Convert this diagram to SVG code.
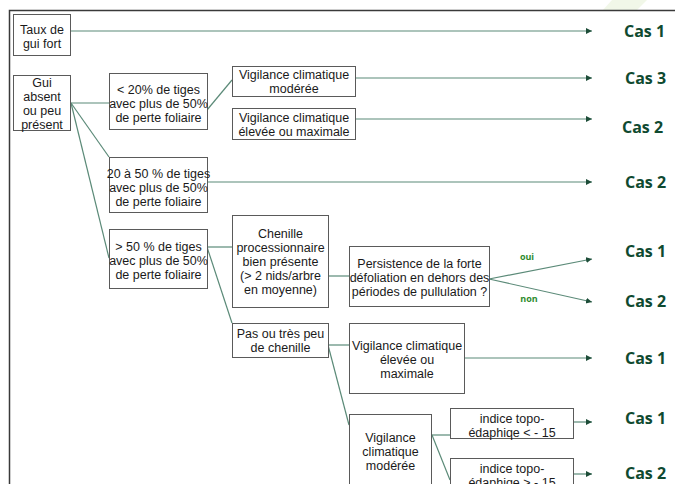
<svg xmlns="http://www.w3.org/2000/svg" width="675" height="484" viewBox="0 0 675 484">
<style>
.box{fill:#fff;stroke:#5a5a5a;stroke-width:1}
.t{font-family:"Liberation Sans",Arial,sans-serif;font-size:12.5px;fill:#1a1a1a;text-anchor:middle}
.cas{font-family:"Open Sans","Liberation Sans",sans-serif;font-size:16px;font-weight:bold;fill:#0f4a30}
.lab{font-family:"Open Sans","Liberation Sans",sans-serif;font-size:9px;font-weight:bold;fill:#2e8b2e;text-anchor:middle}
.ln{fill:none;stroke:#5b8a78;stroke-width:1.2}
.arr{marker-end:url(#ah)}
</style>
<defs>
<marker id="ah" markerUnits="userSpaceOnUse" markerWidth="7" markerHeight="7" refX="6" refY="3" orient="auto">
<path d="M0,0 L6,3 L0,6 z" fill="#1d4d38"/>
</marker>
</defs>
<rect width="675" height="484" fill="#fff"/>
<polygon points="612,0 647,0 637,10 603,10" fill="#f1f7e8"/>
<path d="M9.5,484 V10.5 H675" fill="none" stroke="#3a3a3a" stroke-width="1.5"/>

<g id="connectors">
<path class="ln arr" d="M71,31 H592"/>
<path class="ln" d="M71,103 H109"/>
<path class="ln" d="M71,103 L109,157"/>
<path class="ln" d="M71,103 L109,258"/>
<path class="ln" d="M207,110 L232,80"/>
<path class="ln arr" d="M356,78 H592"/>
<path class="ln arr" d="M356,119 H592"/>
<path class="ln arr" d="M207,182 H592"/>
<path class="ln" d="M207,247 H232"/>
<path class="ln" d="M207,247 L232,323"/>
<path class="ln" d="M328,276 H349"/>
<path class="ln arr" d="M489,279 L592,259"/>
<path class="ln arr" d="M489,279 L592,302"/>
<path class="ln" d="M328,345 H349"/>
<path class="ln" d="M328,345 L349,425"/>
<path class="ln arr" d="M465,358 H592"/>
<path class="ln" d="M432,435 H450"/>
<path class="ln" d="M432,435 L450,480"/>
<path class="ln arr" d="M573,422 H592"/>
<path class="ln arr" d="M573,474 H592"/>
<text class="lab" x="527" y="260">oui</text>
<text class="lab" x="529" y="302">non</text>
</g>

<g id="n1"><rect class="box" x="13.5" y="14.5" width="57" height="41"/>
<text class="t" x="42" y="34">Taux de</text><text class="t" x="42" y="48">gui fort</text></g>

<g id="n2"><rect class="box" x="13.5" y="75.5" width="57" height="55"/>
<text class="t" x="42" y="87">Gui</text><text class="t" x="42" y="101">absent</text><text class="t" x="42" y="115">ou peu</text><text class="t" x="42" y="129">présent</text></g>

<g id="n3"><rect class="box" x="109.5" y="73.5" width="98" height="56"/>
<text class="t" x="158.5" y="94">&lt; 20% de tiges</text><text class="t" x="158.5" y="108">avec plus de 50%</text><text class="t" x="158.5" y="122">de perte foliaire</text></g>

<g id="n4"><rect class="box" x="232.5" y="66.5" width="123" height="30"/>
<text class="t" x="294" y="79">Vigilance climatique</text><text class="t" x="294" y="93">modérée</text></g>

<g id="n5"><rect class="box" x="232.5" y="108.5" width="123" height="31"/>
<text class="t" x="294" y="121.5">Vigilance climatique</text><text class="t" x="294" y="135.5">élevée ou maximale</text></g>

<g id="n6"><rect class="box" x="109.5" y="157.5" width="98" height="55"/>
<text class="t" x="158.5" y="177.5">20 à 50 % de tiges</text><text class="t" x="158.5" y="191.5">avec plus de 50%</text><text class="t" x="158.5" y="205.5">de perte foliaire</text></g>

<g id="n7"><rect class="box" x="109.5" y="229.5" width="98" height="59"/>
<text class="t" x="158.5" y="250.5">&gt; 50 % de tiges</text><text class="t" x="158.5" y="264.5">avec plus de 50%</text><text class="t" x="158.5" y="278.5">de perte foliaire</text></g>

<g id="n8"><rect class="box" x="232.5" y="215.5" width="96" height="92"/>
<text class="t" x="280.5" y="238">Chenille</text><text class="t" x="280.5" y="252">processionnaire</text><text class="t" x="280.5" y="266">bien présente</text><text class="t" x="280.5" y="280">(&gt; 2 nids/arbre</text><text class="t" x="280.5" y="294">en moyenne)</text></g>

<g id="n9"><rect class="box" x="232.5" y="323.5" width="96" height="34"/>
<text class="t" x="280.5" y="337.5">Pas ou très peu</text><text class="t" x="280.5" y="351.5">de chenille</text></g>

<g id="n10"><rect class="box" x="349.5" y="246.5" width="140" height="60"/>
<text class="t" x="419.5" y="267.5">Persistence de la forte</text><text class="t" x="419.5" y="281.5">défoliation en dehors des</text><text class="t" x="419.5" y="295.5">périodes de pullulation ?</text></g>

<g id="n11"><rect class="box" x="349.5" y="323.5" width="115" height="70"/>
<text class="t" x="407" y="350">Vigilance climatique</text><text class="t" x="407" y="364">élevée ou</text><text class="t" x="407" y="378">maximale</text></g>

<g id="n12"><rect class="box" x="349.5" y="414.5" width="82" height="80"/>
<text class="t" x="390.5" y="441.5">Vigilance</text><text class="t" x="390.5" y="455.5">climatique</text><text class="t" x="390.5" y="469.5">modérée</text></g>

<g id="n13"><rect class="box" x="450.5" y="408.5" width="123" height="30"/>
<text class="t" x="512" y="422.5">indice topo-</text><text class="t" x="512" y="436.5">édaphiqe &lt; - 15</text></g>

<g id="n14"><rect class="box" x="450.5" y="458.5" width="123" height="40"/>
<text class="t" x="512" y="472.5">indice topo-</text><text class="t" x="512" y="486.5">édaphiqe &gt; - 15</text></g>

<g id="labels">
<text class="cas" x="624" y="37">Cas 1</text>
<text class="cas" x="625" y="84">Cas 3</text>
<text class="cas" x="622" y="133">Cas 2</text>
<text class="cas" x="625" y="188">Cas 2</text>
<text class="cas" x="625" y="257">Cas 1</text>
<text class="cas" x="625" y="307">Cas 2</text>
<text class="cas" x="625" y="364">Cas 1</text>
<text class="cas" x="625" y="424">Cas 1</text>
<text class="cas" x="625" y="479">Cas 2</text>
</g>
</svg>
